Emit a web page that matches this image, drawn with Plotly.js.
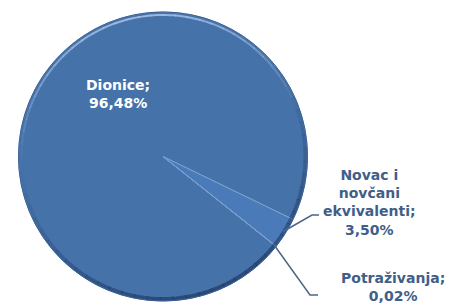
<!DOCTYPE html>
<html>
<head>
<meta charset="utf-8">
<script src="https://cdn.plot.ly/plotly-3.0.1.min.js"></script>
<style>html,body{margin:0;padding:0;background:#fff;}#chart{width:451px;height:304px;}</style>
</head>
<body>
<div id="chart"></div>
<script>
// ---- data ----
const labels = ['Dionice', 'Novac i novčani ekvivalenti', 'Potraživanja'];
const values = [96.48, 3.50, 0.02];
const labelLines = [['Dionice;'], ['Novac i', 'novčani', 'ekvivalenti;'], ['Potraživanja;']];

// ---- layout constants ----
const W = 451, H = 304;
const CX = 163, CY = 156.5, R = 144.5;
const ROT = 128.5;
const sliceColors = ['#4572a8', '#4b7ab8', '#4b7ab8'];
const labelPos = [[118, 94], [369, 202], [393, 287]];
const labelColors = ['#ffffff', '#3f5e88', '#3f5e88'];
const elbows = [null, [[312, 215], [319, 215]], [[310, 295], [318, 295]]];

function px(x) { return x / W; }
function py(y) { return 1 - y / H; }
function fmt(v) { return v.toFixed(2).replace('.', ',') + '%'; }

// slice mid angles (clockwise from 12 o'clock)
const total = values.reduce((a, b) => a + b, 0);
let acc = 0;
const mids = values.map(v => { const m = ROT + (acc + v / 2) / total * 360; acc += v; return m; });
function edgePt(deg, r) {
  const a = deg * Math.PI / 180;
  return [CX + r * Math.sin(a), CY - r * Math.cos(a)];
}
function arc(r, a0, a1, n) {
  let d = '';
  for (let i = 0; i <= n; i++) {
    const p = edgePt(a0 + (a1 - a0) * i / n, r);
    d += (i === 0 ? 'M' : 'L') + px(p[0]).toFixed(5) + ',' + py(p[1]).toFixed(5) + ' ';
  }
  return d;
}

const annotations = labels.map((l, i) => ({
  xref: 'paper', yref: 'paper',
  x: px(labelPos[i][0]), y: py(labelPos[i][1]),
  xanchor: 'center', yanchor: 'middle',
  showarrow: false,
  text: '<b>' + labelLines[i].join('<br>') + '<br>' + fmt(values[i]) + '</b>',
  font: { family: 'DejaVu Sans', size: 14, color: labelColors[i] },
  align: 'center'
}));

const shapes = [];
// bevel decoration: faded arcs (highlight top-left, shadow bottom-right)
function fadedArc(r, a0, a1, segs, rgb, peak, width) {
  for (let k = 0; k < segs; k++) {
    const t = (k + 0.5) / segs;
    const alpha = peak * Math.pow(Math.sin(Math.PI * t), 1.2);
    const s0 = a0 + (a1 - a0) * k / segs, s1 = a0 + (a1 - a0) * (k + 1) / segs + 0.3;
    shapes.push({ type: 'path', xref: 'paper', yref: 'paper', path: arc(r, s0, s1, 4),
      line: { color: 'rgba(' + rgb + ',' + alpha.toFixed(3) + ')', width: width } });
  }
}
fadedArc(R - 3, -95, 75, 34, '175,200,240', 0.8, 2);
fadedArc(R - 2, 55, 265, 40, '20,40,80', 0.55, 4);
shapes.push({ type: 'circle', xref: 'paper', yref: 'paper',
  x0: px(CX - R), x1: px(CX + R), y0: py(CY + R), y1: py(CY - R),
  line: { color: '#3a5f92', width: 1 } });
// leader lines
labels.forEach((l, i) => {
  if (!elbows[i]) return;
  const s = edgePt(mids[i], R - 3);
  let d = 'M' + px(s[0]) + ',' + py(s[1]);
  elbows[i].forEach(p => { d += ' L' + px(p[0]) + ',' + py(p[1]); });
  shapes.push({ type: 'path', xref: 'paper', yref: 'paper', path: d,
    line: { color: '#4d6586', width: 1.5 } });
});

const trace = {
  type: 'pie',
  labels: labels,
  values: values,
  sort: false,
  direction: 'clockwise',
  rotation: ROT,
  textinfo: 'none',
  hoverinfo: 'skip',
  marker: { colors: sliceColors, line: { color: '#7aa0d2', width: 1 } },
  domain: { x: [px(CX - R), px(CX + R)], y: [py(CY + R), py(CY - R)] },
  showlegend: false
};

Plotly.newPlot('chart', [trace], {
  width: W, height: H,
  margin: { l: 0, r: 0, t: 0, b: 0 },
  paper_bgcolor: '#ffffff',
  showlegend: false,
  annotations: annotations,
  shapes: shapes
}, { staticPlot: true });
</script>
</body>
</html>
